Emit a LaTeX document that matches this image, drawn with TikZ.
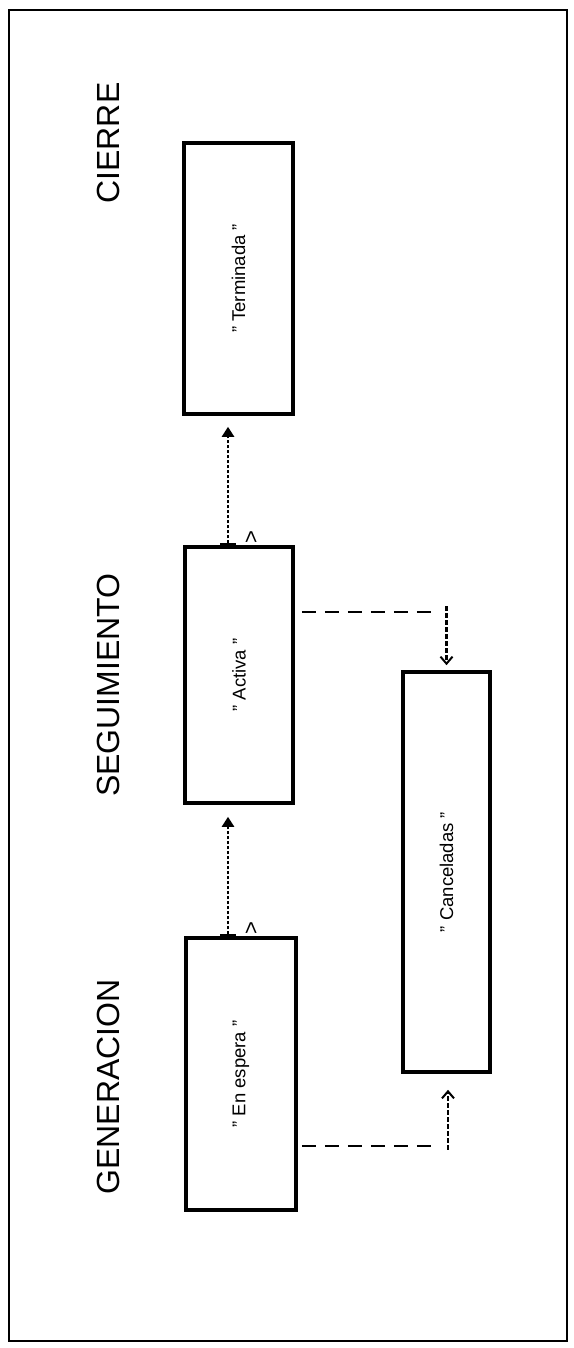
\documentclass[tikz,border=0pt]{standalone}
\usepackage{fontspec}
\setmainfont{Liberation Sans}
\usetikzlibrary{arrows.meta}
\tikzset{
  estado/.style={draw, line width=3.6pt, inner sep=0pt},
  fase/.style={rotate=90, font=\fontsize{32}{40}\selectfont},
  rotulo/.style={rotate=90, font=\fontsize{18.5}{22}\selectfont},
  paso/.style={line width=2.4pt, dash pattern=on 3.5pt off 1.5pt,
    {Bar[width=16pt,line width=2.4pt]}-{Triangle[length=10pt,width=12pt]}},
  rama/.style={line width=1.8pt, dash pattern=on 14pt off 9pt},
  baja/.style={line width=2.2pt, dash pattern=on 5pt off 2pt,
    -{Straight Barb[length=7pt,width=12pt,line width=2pt]}}
}
\begin{document}
\begin{tikzpicture}[x=1pt,y=-1pt]
\useasboundingbox (0,0) rectangle (573,1348);
\draw[line width=2.4pt] (9,10) rectangle (567,1341);
\node[fase] (cierre) at (108,143) {CIERRE};
\node[fase] (seguimiento) at (108,685) {SEGUIMIENTO};
\node[fase] (generacion) at (108,1087) {GENERACION};
\node[estado, minimum width=109pt, minimum height=271pt,
  label={[rotulo]center:" Terminada "}] (terminada) at (238.5,278.5) {};
\node[estado, minimum width=108pt, minimum height=256pt,
  label={[rotulo]center:" Activa "}] (activa) at (239,675) {};
\node[estado, minimum width=110pt, minimum height=272pt,
  label={[rotulo]center:" En espera "}] (espera) at (241,1074) {};
\node[estado, minimum width=87pt, minimum height=400pt,
  label={[rotulo]center:" Canceladas "}] (canceladas) at (446.5,872) {};
\node[rotulo, font=\fontsize{22}{24}\selectfont] (marca1) at (252,928) {>};
\node[rotulo, font=\fontsize{22}{24}\selectfont] (marca2) at (252,537) {>};
\draw[paso] ([xshift=-13pt]espera.north) -- ([xshift=-11pt,yshift=-12pt]activa.south);
\draw[paso] ([xshift=-11pt]activa.north) -- ([xshift=-10.5pt,yshift=-11pt]terminada.south);
\coordinate (salida1) at ([xshift=7pt,yshift=63pt]activa.east);
\coordinate (salida2) at ([xshift=4pt,yshift=-72pt]espera.east);
\draw[rama] (salida1) -- ++(130,0);
\draw[baja] ([yshift=64pt]canceladas.north) -- ([yshift=5pt]canceladas.north);
\draw[rama] (salida2) -- ++(132,0);
\draw[baja] ([xshift=1.5pt,yshift=-76pt]canceladas.south) -- ([xshift=1.5pt,yshift=-16pt]canceladas.south);
\end{tikzpicture}
\end{document}
